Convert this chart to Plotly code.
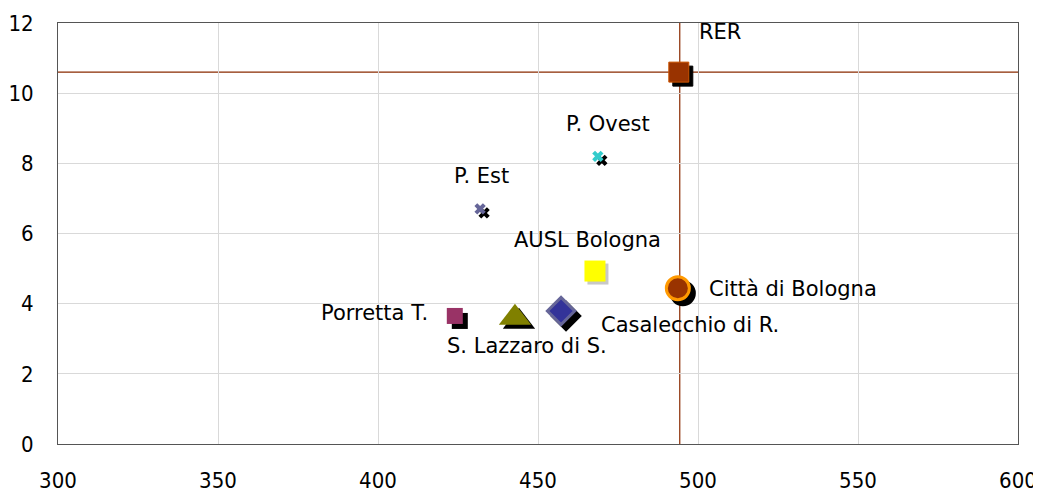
import plotly.graph_objects as go

names = ["RER", "P. Ovest", "P. Est", "AUSL Bologna", "Città di Bologna",
         "Casalecchio di R.", "S. Lazzaro di S.", "Porretta T."]
x_vals = [494.0, 468.7, 431.9, 467.8, 493.7, 457.2, 442.8, 424.0]
y_vals = [10.6, 8.2, 6.7, 4.93, 4.44, 3.79, 3.6, 3.65]
ref_x = 494.3
ref_y = 10.6

symbols = ["square", "x", "x", "square", "circle", "diamond", "triangle-up", "square"]
fills = ["#993300", "#33CCCC", "#666699", "#FFFF00", "#993300", "#333399", "#808000", "#993366"]
borders = ["#CC5500", "#33CCCC", "#666699", "#FFFF00", "#FF9900", "#666699", "#808000", "#993366"]
bwidths = [1, 0, 0, 0, 3, 3, 0, 0]
sizes = [20, 10, 10, 21, 23, 21, 28, 16]
shadow_px = [4, 4, 4, 3, 5, 5, 4, 5]
shadow_col = ["black", "black", "black", "#C8C8C8", "black", "black", "black", "black"]
label_dx = [41, 10, 1, -7, 115, 129, 12, -80]
label_dy = [40, 32, 33, 31, -1, -14, -28, 3]

W, H = 1033, 486
L, R, T, B = 50, 23, 15, 50
xr = [300, 600]
yr = [0, 12]
px_x = (xr[1] - xr[0]) / (W - L - R)
px_y = (yr[1] - yr[0]) / (H - T - B)

TICKFONT = "DejaVu Sans Condensed, DejaVu Sans"
LABELFONT = "DejaVu Sans"

fig = go.Figure()

fig.add_shape(type="line", x0=ref_x, x1=ref_x, y0=yr[0], y1=yr[1],
              line=dict(color="#8A2A00", width=1.2), layer="below")
fig.add_shape(type="line", x0=xr[0], x1=xr[1], y0=ref_y, y1=ref_y,
              line=dict(color="#8A2A00", width=1.2), layer="below")

for i, n in enumerate(names):
    s = shadow_px[i]
    if s > 0:
        fig.add_trace(go.Scatter(
            x=[x_vals[i] + s * px_x], y=[y_vals[i] - s * px_y], mode="markers",
            marker=dict(symbol=symbols[i], size=sizes[i], color=shadow_col[i],
                        line=dict(color=shadow_col[i], width=bwidths[i])),
            showlegend=False, hoverinfo="skip"))
    fig.add_trace(go.Scatter(
        x=[x_vals[i]], y=[y_vals[i]], mode="markers", name=n,
        marker=dict(symbol=symbols[i], size=sizes[i], color=fills[i],
                    line=dict(color=borders[i], width=bwidths[i])),
        showlegend=False))
    fig.add_annotation(x=x_vals[i], y=y_vals[i], text=n, showarrow=False,
                       xshift=label_dx[i], yshift=label_dy[i],
                       font=dict(family=LABELFONT, size=21, color="black"))

fig.update_layout(
    width=W, height=H,
    margin=dict(l=L, r=R, t=T, b=B, autoexpand=False),
    plot_bgcolor="white", paper_bgcolor="white",
    font=dict(family=TICKFONT, size=22, color="black"),
    xaxis=dict(range=xr, dtick=50, showgrid=True, gridcolor="#D9D9D9",
               showline=True, linecolor="#555555", mirror=True, zeroline=False,
               ticks="", ticklabelstandoff=17, automargin=False),
    yaxis=dict(range=yr, dtick=2, showgrid=True, gridcolor="#D9D9D9",
               showline=True, linecolor="#555555", mirror=True, zeroline=False,
               ticks="", ticklabelstandoff=19, automargin=False),
)

fig.write_html("out.html")
